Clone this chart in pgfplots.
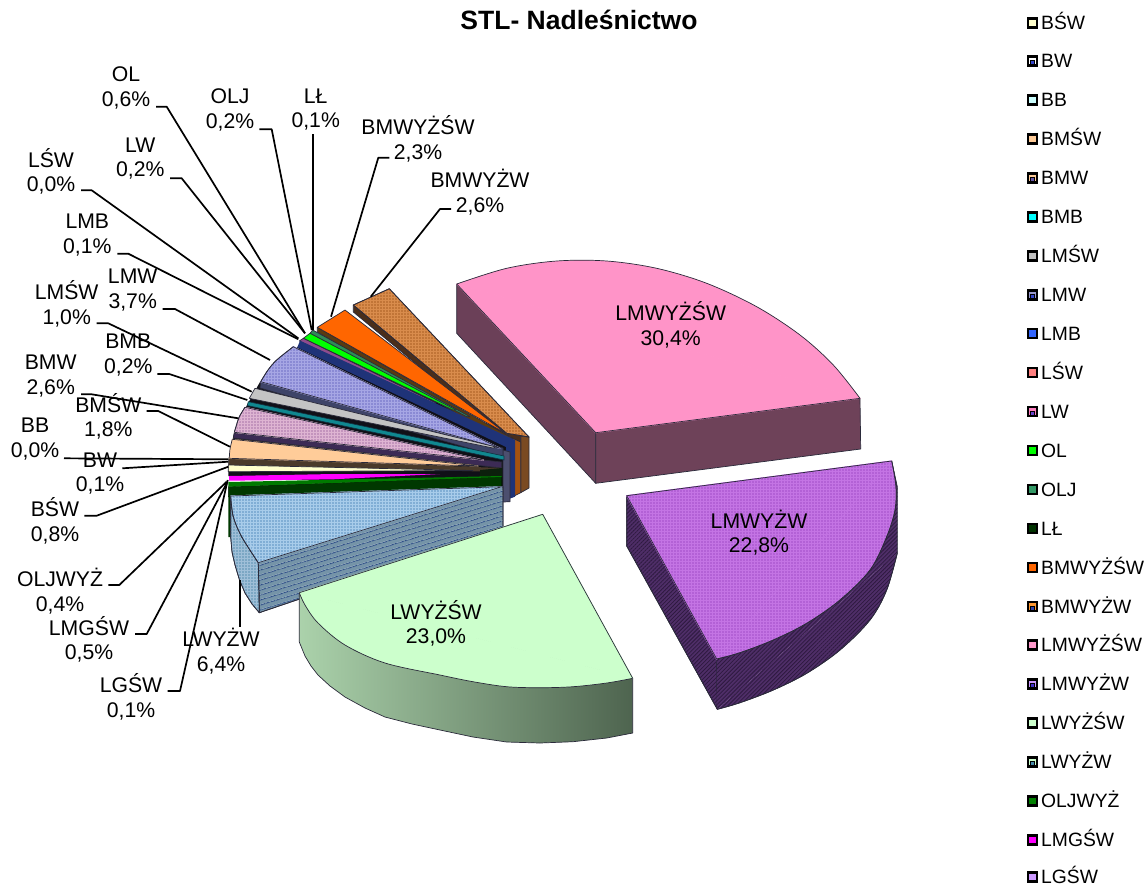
\documentclass[border=0pt]{standalone}
\usepackage{fontspec}
\setmainfont{Liberation Sans}
\usepackage{pgfplots}
\pgfplotsset{compat=1.18}
\usetikzlibrary{patterns.meta}
\newcommand{\hx}[1]{\definecolor{h#1}{HTML}{#1}}
\hx{6B4058}\hx{6E4259}\hx{FF94C8}\hx{2E1A40}\hx{4F2E68}\hx{A24FC8}\hx{C474E4}\hx{101018}\hx{7A4A22}\hx{4A2E1A}\hx{A95E22}\hx{D98C4C}
\hx{A65210}\hx{5A3A10}\hx{FF6600}\hx{2E8B57}\hx{00FF00}\hx{8E4C8E}\hx{1F3378}\hx{4C4F6F}\hx{3E4468}\hx{6E6EC4}\hx{A6A6E4}\hx{C4C4C4}
\hx{108890}\hx{103040}\hx{3C2B55}\hx{A874A8}\hx{DEB4D2}\hx{4A3A2A}\hx{FFCC99}\hx{FFFFCC}\hx{0C200C}\hx{003800}\hx{001800}\hx{007A00}
\hx{FF00FF}\hx{2F4F88}\hx{7594A8}\hx{5A90B0}\hx{9FBFD8}\hx{5A90C0}\hx{A8CCEA}\hx{ABD2AB}\hx{4E644F}\hx{CCFFCC}\hx{3344CC}\hx{CCFFFF}
\hx{6655AA}\hx{00FFFF}\hx{C0C0C0}\hx{9999CC}\hx{3366FF}\hx{FF8080}\hx{FF80C0}\hx{6644CC}\hx{339966}\hx{003300}\hx{FF9933}\hx{3344AA}
\hx{FF99CC}\hx{CC99FF}\hx{4433CC}\hx{4488AA}\hx{008000}
\definecolor{edgec}{HTML}{2A2A3A}
\tikzset{dotfill/.style={postaction={pattern={Dots[distance=3pt,radius=.8pt]},pattern color=#1}},
  hatch/.style={postaction={pattern={Lines[angle=45,distance=2.8pt,line width=.8pt]},pattern color=#1}},
  stripes/.style={postaction={pattern={Lines[angle=17,distance=5.4pt,line width=1.1pt]},pattern color=#1}},
  lbl/.style={align=center,inner sep=0pt,font=\fontsize{21.2}{24.5}\selectfont}}
\newcommand{\face}[3][]{\addplot[fill=#2,draw=edgec,line width=.7pt,line join=round,#1] coordinates {#3};}
% a face with a curved rim: #3 the rim (smooth), #4 the straight edges (start, apex, end)
\newcommand{\arcface}[4][]{\addplot[fill=#2,draw=#2,line width=1pt,line join=round,#1] coordinates {#4} -- cycle;
\addplot[smooth,tension=.55,fill=#2,draw=edgec,line width=.7pt,#1] coordinates {#3};
\addplot[draw=edgec,line width=.7pt,line join=round] coordinates {#4};}
\newcommand{\lead}[1]{\addplot[black,line width=1.7pt,line join=round] coordinates {#1};}
\newcommand{\lab}[4]{\node[lbl] at (axis cs:#1,#2) {#3\\#4};}
\newcommand{\leg}[3]{\addplot[only marks,mark=square*,mark size=4.6pt,mark options={draw=black,line width=2.4pt,fill=#1}] coordinates {(1032.5,#2)};
\node[anchor=base west,inner sep=0pt,font=\fontsize{19.3}{23}\selectfont] at (axis cs:1041,#2+6.5) {#3};}
\newcommand{\legb}[4]{\leg{#1}{#3}{#4}\addplot[only marks,mark=square*,mark size=2pt,mark options={draw=none,fill=#2}] coordinates {(1032.5,#3+1.5)};}
\begin{document}
\begin{tikzpicture}
\begin{axis}[name=main,scale only axis,width=1147pt,height=887pt,xmin=0,xmax=1147,ymin=0,ymax=887,y dir=reverse,hide axis,clip=false]
% pink slice
\face{h6B4058}{(456.7,284)(595.7,432.7)(595.7,483.3)(456.7,333.3)(456.7,284)}
\face{h6E4259}{(595.7,432.7)(860,398.3)(860.7,449)(595.7,483.3)(595.7,432.7)}
\arcface{hFF94C8}{(456.7,284)(506.7,268.3)(556.7,261)(606.7,261)(656.7,268.3)(706.7,283.3)(756.7,306.7)(800,335)(833.3,365)(860,398.3)}{(456.7,284)(595.7,432.7)(860,398.3)}
% purple slice
\face[hatch=h2E1A40]{h4F2E68}{(626.7,495.7)(716.7,659)(717.3,709.3)(626.7,546)(626.7,495.7)}
\addplot[fill=h4F2E68,draw=none,hatch=h2E1A40] coordinates {(891.7,461)(897.3,486.7)(897.3,553)(717.3,709.3)(716.7,659)};
\addplot[smooth,tension=.55,fill=h4F2E68,draw=edgec,line width=.7pt,hatch=h2E1A40] coordinates {(897.3,553)(886.7,590)(870,620)(840,650)(806.7,673.3)(773.3,690)(740,702.7)(717.3,709.3)};
\addplot[draw=edgec,line width=.7pt] coordinates {(891.7,461)(897.3,486.7)(897.3,553)};
\arcface[dotfill=hA24FC8]{hC474E4}{(891.7,461)(896,486.7)(895,510)(886.7,536.7)(870,570)(840,600)(806.7,623.3)(773.3,640)(740,652.7)(716.7,659)}{(891.7,461)(626.7,495.7)(716.7,659)}
% dark backing of the fan
\addplot[fill=h101018,draw=none] coordinates {(310,333)(470,416)(515,442)(505,490)(228.3,476)(228.3,460)(234,433)(247,405)(260,382)(297.3,347.3)(310,333)};
% BMWYZW
\face{h7A4A22}{(520.7,436)(529,437)(529,488)(520.7,492.7)(520.7,436)}
\face{h4A2E1A}{(353.3,305)(353.3,312)(520.7,450)(520.7,436)(353.3,305)}
\face[dotfill=hA95E22]{hD98C4C}{(389.3,288.7)(353.3,305)(506.7,433.3)(529,437)(389.3,288.7)}
% BMWYZSW
\face{hA65210}{(512,438)(520.7,442)(520.7,492.7)(512,497)(512,438)}
\face{h5A3A10}{(317.3,327.3)(317.3,332)(512,446)(512,438)(317.3,327.3)}
\face{hFF6600}{(345,310)(317.3,327.3)(505,433)(512,438)(345,310)}
% OLJ, OL, LW
\face{h2E8B57}{(312.7,330)(310,333.3)(466.7,416.7)(470,416.7)(312.7,330)}
\face{h00FF00}{(310,333.3)(303.3,338.3)(453,410)(456,410)(310,333.3)}
\face{h8E4C8E}{(303.3,338.3)(299.3,341)(433,405)(436,403)(303.3,338.3)}
% LMB
\addplot[fill=h1F3378,draw=none] coordinates {(297.3,347.3)(300,340.7)(515,440)(515,496.7)(506,500)(506,447)(297.3,347.3)};
% LMW
\face{h4C4F6F}{(503,450)(510,452)(510,501.7)(503,502)(503,450)}
\face{h3E4468}{(260.7,381.7)(260,388)(503,458)(503,448)(260.7,381.7)}
\arcface[dotfill=h6E6EC4]{hA6A6E4}{(293.3,346.7)(276.7,360)(268,370)(260.7,381.7)}{(293.3,346.7)(500,448.3)(260.7,381.7)}
% LMSW
\face{hC4C4C4}{(255,388.3)(249.3,398.3)(493,448)(496,447)(255,388.3)}
% BMB
\addplot[fill=h108890,draw=h103040,line width=.6pt] coordinates {(248.3,401.7)(247.3,405.5)(504,460)(504,456)(248.3,401.7)};
% BMW
\face{h3C2B55}{(234.3,433)(233.3,438)(501.7,468)(501.7,462)(234.3,433)}
\arcface[dotfill=hA874A8]{hDEB4D2}{(245,407.3)(239.3,416.7)(236.5,425)(234.3,432.3)}{(245,407.3)(483.3,460)(234.3,432.3)}
% BMSW
\addplot[fill=h4A3A2A,draw=none] coordinates {(229.3,458)(228.5,465)(501.7,472)(501.7,468)(229.3,458)};
\arcface{hFFCC99}{(232.3,439.3)(230,449)(229.3,458.3)}{(232.3,439.3)(478,466)(229.3,458.3)}
% BSW
\face{hFFFFCC}{(228.3,465)(228.3,471.7)(473,470.5)(228.3,465)}
% right-hand dark walls of the small slices
\addplot[fill=h0C200C,draw=none] coordinates {(480,470)(502,468)(502,490)(480,490)(480,470)};
% OLJWYZ and LMGSW
\addplot[fill=h003800,draw=h001800,line width=.6pt] coordinates {(228.3,486.7)(501.7,476.7)(501.7,486.7)(228.3,496.7)(228.3,486.7)};
\addplot[fill=h007A00,draw=none] coordinates {(228.3,482)(501.7,476)(501.7,477)(228.3,486.7)(228.3,482)};
\addplot[fill=h003800,draw=none] coordinates {(228.3,496)(231,496)(231,537)(228.3,537)(228.3,496)};
\addplot[fill=hFF00FF,draw=none] coordinates {(229,476)(333,474)(440,474)(333,479.3)(229,480.7)(229,476)};
% LWYZW
\face[stripes=h2F4F88]{h7594A8}{(501.7,486.7)(503,486.7)(503,530)(259.3,612.7)(258.3,562.7)(501.7,486.7)}
\face[dotfill=h5A90B0]{h9FBFD8}{(230.7,496)(230.7,537)(232,552)(235,565)(239.5,580)(245,593)(252,604)(259.3,612.7)(258.3,562.7)(241.7,536.7)(233.3,516.7)(230.7,496)}
\arcface[dotfill=h5A90C0]{hA8CCEA}{(230.7,496)(233.3,516.7)(241.7,536.7)(258.3,562.7)}{(230.7,496)(501.7,486.7)(258.3,562.7)}
% LWYZSW
\addplot[left color=hABD2AB,right color=h4E644F,draw=edgec,line width=.7pt,line join=round] coordinates {(299.3,592.7)(299.3,642)(305,656)(311,666)(318,675)(330,686)(345,697)(365,708)(385,717)(412,724)(440,730)(473,737)(506.7,742)(540,743)(573,741.7)(606.7,738)(632.7,733)(632.7,678.3)(299.3,592.7)};
\arcface{hCCFFCC}{(299.3,592.7)(305,605)(318,623)(345,645)(385,663)(440,675)(473,681.7)(506.7,686.7)(540,687.7)(573,686.7)(606.7,683)(632.7,678.3)}{(299.3,592.7)(542.7,514.3)(632.7,678.3)}
% leader lines
\lead{(156,106.7)(166.7,106.7)(305,333.3)}
\lead{(259.3,129.3)(271.7,129.3)(311.7,330)}
\lead{(313.3,134)(313.3,330)}
\lead{(389.3,157.7)(378.3,157.7)(331,316.7)}
\lead{(451,209)(440,209)(370.7,296.7)}
\lead{(170,178.3)(181.7,178.3)(305,333.3)}
\lead{(81,190.3)(91.7,190.3)(298.3,338.3)}
\lead{(117.3,253.7)(128.3,253.7)(298.3,339.3)}
\lead{(162.7,309)(175,309)(270,360)}
\lead{(96.7,323.3)(108.3,323.3)(251.7,391.7)}
\lead{(157.3,374)(169.3,374)(247.3,400)}
\lead{(81,394.3)(91.7,394.3)(238.3,418.3)}
\lead{(146.7,411)(158.3,411)(230,446.7)}
\lead{(64,458.3)(228.3,459.3)}
\lead{(122.3,468.3)(228.3,461.7)}
\lead{(84.3,515.7)(96.7,515.7)(228.3,466.7)}
\lead{(108.3,585)(119.3,585)(226.7,481.7)}
\lead{(135,634)(146.7,634)(226.7,483.3)}
\lead{(167.7,691)(180,691)(227.7,480)}
\lead{(240,580)(240,626.7)}
% title
\node[font=\bfseries\fontsize{26.5}{30}\selectfont,inner sep=0pt] at (axis cs:579,20) {STL- Nadleśnictwo};
% data labels
\lab{126}{88}{OL}{0,6\%}
\lab{230}{109.7}{OLJ}{0,2\%}
\lab{315.7}{109.7}{LŁ}{0,1\%}
\lab{418}{139}{BMWYŻŚW}{2,3\%}
\lab{480}{192}{BMWYŻW}{2,6\%}
\lab{670.7}{325}{LMWYŻŚW}{30,4\%}
\lab{759}{532.5}{LMWYŻW}{22,8\%}
\lab{436}{623.5}{LWYŻŚW}{23,0\%}
\lab{51}{171.5}{LŚW}{0,0\%}
\lab{140.3}{158.8}{LW}{0,2\%}
\lab{87.3}{235}{LMB}{0,1\%}
\lab{132.7}{290}{LMW}{3,7\%}
\lab{66.7}{304}{LMŚW}{1,0\%}
\lab{128.3}{355}{BMB}{0,2\%}
\lab{50.7}{376}{BMW}{2,6\%}
\lab{108.3}{416.5}{BMŚW}{1,8\%}
\lab{35}{439}{BB}{0,0\%}
\lab{100}{473.7}{BW}{0,1\%}
\lab{55}{521}{BŚW}{0,8\%}
\lab{60}{591}{OLJWYŻ}{0,4\%}
\lab{89}{639.5}{LMGŚW}{0,5\%}
\lab{221}{651.3}{LWYŻW}{6,4\%}
\lab{131}{697}{LGŚW}{0,1\%}
% legend
\leg{hFFFFCC}{23}{BŚW}
\legb{white}{h3344CC}{61}{BW}
\leg{hCCFFFF}{100}{BB}
\leg{hFFCC99}{139}{BMŚW}
\legb{hFFCC99}{h6655AA}{178}{BMW}
\leg{h00FFFF}{217}{BMB}
\leg{hC0C0C0}{256}{LMŚW}
\legb{h9999CC}{h3344CC}{295}{LMW}
\leg{h3366FF}{333.5}{LMB}
\leg{hFF8080}{372.5}{LŚW}
\legb{hFF80C0}{h6644CC}{411.5}{LW}
\leg{h00FF00}{450.5}{OL}
\leg{h339966}{489.5}{OLJ}
\leg{h003300}{528.5}{LŁ}
\leg{hFF6600}{567.5}{BMWYŻŚW}
\legb{hFF9933}{h3344AA}{606.5}{BMWYŻW}
\leg{hFF99CC}{645}{LMWYŻŚW}
\legb{hCC99FF}{h4433CC}{684}{LMWYŻW}
\leg{hCCFFCC}{723}{LWYŻŚW}
\legb{hCCFFCC}{h4488AA}{762}{LWYŻW}
\leg{h008000}{801}{OLJWYŻ}
\leg{hFF00FF}{840}{LMGŚW}
\leg{hCC99FF}{877}{LGŚW}
\end{axis}
\pgfresetboundingbox
\useasboundingbox (main.south west) rectangle (main.north east);
\end{tikzpicture}
\end{document}
